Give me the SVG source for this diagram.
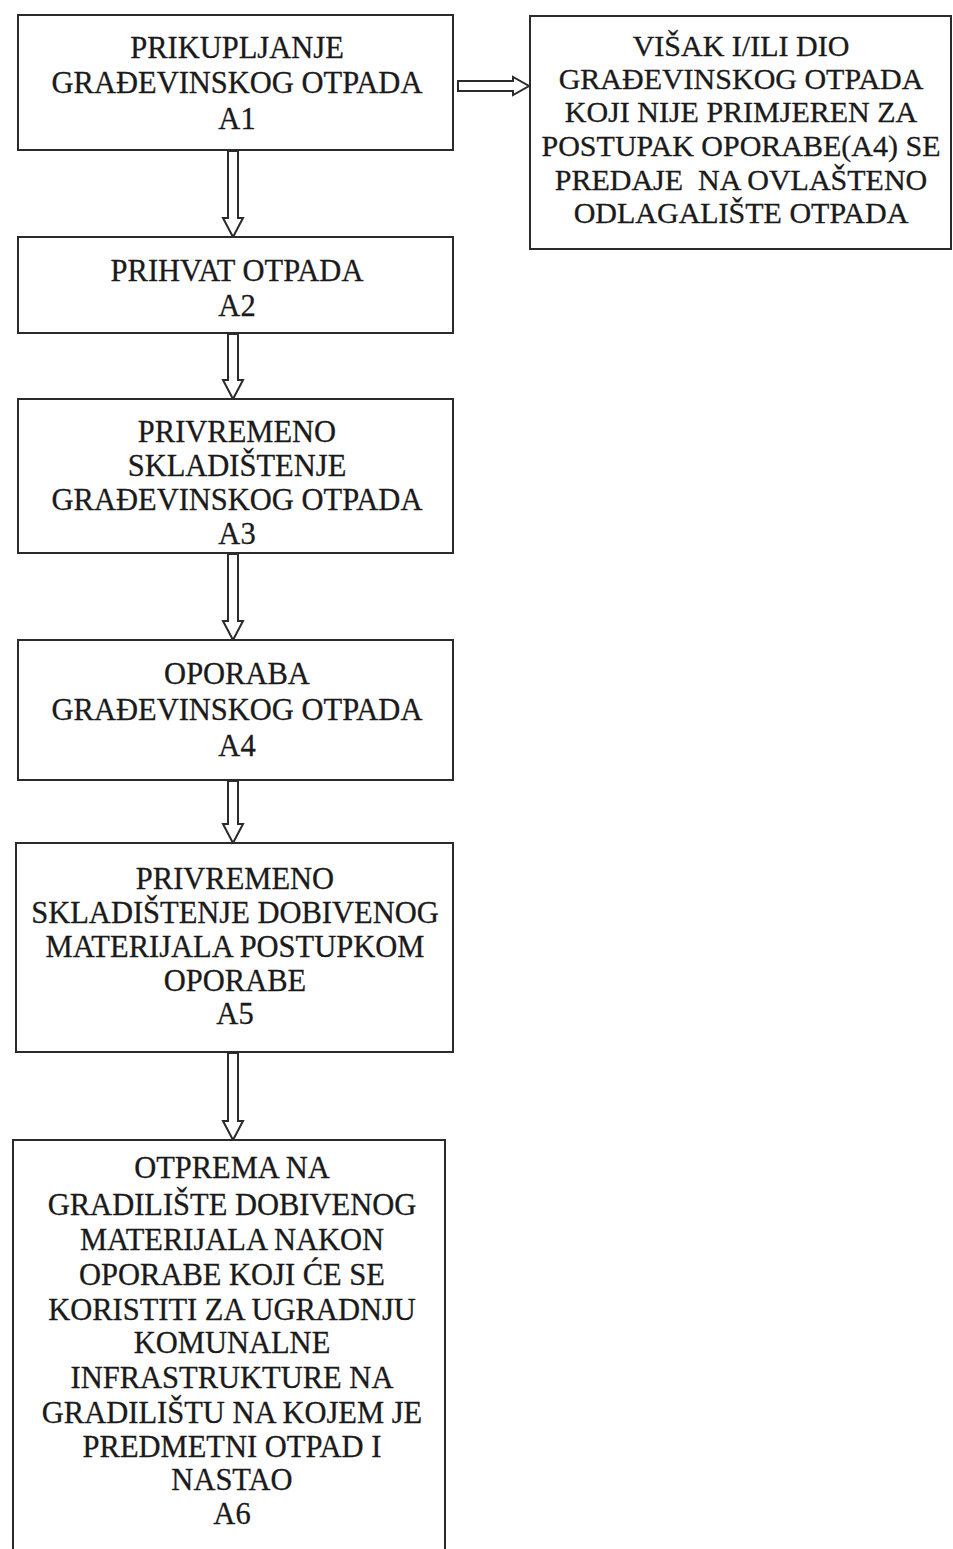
<svg xmlns="http://www.w3.org/2000/svg" width="953" height="1549" viewBox="0 0 953 1549">
<style>
.box{fill:#fff;stroke:#2b2b2b;stroke-width:2}
.arr{fill:#fff;stroke:#2b2b2b;stroke-width:2;stroke-linejoin:miter}
text{font-family:"Liberation Serif","Times New Roman",serif;font-size:30.5px;fill:#1a1a1a;stroke:#1a1a1a;stroke-width:0.3;text-anchor:middle}
.r text{font-size:30px}
</style>
<rect width="953" height="1549" fill="#fff"/>
<g id="connectors">
<polygon class="arr" points="458,81 513,81 513,77 529,86 513,95 513,91 458,91"/>
<polygon class="arr" points="228,151 238,151 238,218 243,218 233,237 223,218 228,218"/>
<polygon class="arr" points="228,334 238,334 238,380 243,380 233,399 223,380 228,380"/>
<polygon class="arr" points="228,554 238,554 238,621 243,621 233,640 223,621 228,621"/>
<polygon class="arr" points="228,781 238,781 238,824 243,824 233,843 223,824 228,824"/>
<polygon class="arr" points="228,1053 238,1053 238,1121 243,1121 233,1140 223,1121 228,1121"/>
</g>
<g id="A1">
<rect class="box" x="18" y="15" width="435" height="135"/>
<text x="237" y="58">PRIKUPLJANJE</text>
<text x="237" y="93">GRAĐEVINSKOG OTPADA</text>
<text x="237" y="129">A1</text>
</g>
<g id="R" class="r">
<rect class="box" x="530" y="16" width="421" height="233"/>
<text x="741" y="56">VIŠAK I/ILI DIO</text>
<text x="741" y="89">GRAĐEVINSKOG OTPADA</text>
<text x="741" y="122">KOJI NIJE PRIMJEREN ZA</text>
<text x="741" y="156">POSTUPAK OPORABE(A4) SE</text>
<text x="741" y="190">PREDAJE&#160; NA OVLAŠTENO</text>
<text x="741" y="223">ODLAGALIŠTE OTPADA</text>
</g>
<g id="A2">
<rect class="box" x="18" y="237" width="435" height="96"/>
<text x="237" y="281">PRIHVAT OTPADA</text>
<text x="237" y="316">A2</text>
</g>
<g id="A3">
<rect class="box" x="18" y="399" width="435" height="154"/>
<text x="237" y="442">PRIVREMENO</text>
<text x="237" y="476">SKLADIŠTENJE</text>
<text x="237" y="510">GRAĐEVINSKOG OTPADA</text>
<text x="237" y="544">A3</text>
</g>
<g id="A4">
<rect class="box" x="18" y="640" width="435" height="140"/>
<text x="237" y="684">OPORABA</text>
<text x="237" y="720">GRAĐEVINSKOG OTPADA</text>
<text x="237" y="756">A4</text>
</g>
<g id="A5">
<rect class="box" x="16" y="843" width="437" height="209"/>
<text x="235" y="889">PRIVREMENO</text>
<text x="235" y="923">SKLADIŠTENJE DOBIVENOG</text>
<text x="235" y="957">MATERIJALA POSTUPKOM</text>
<text x="235" y="991">OPORABE</text>
<text x="235" y="1024">A5</text>
</g>
<g id="A6">
<path class="box" d="M13,1560 V1140 H445 V1560"/>
<text x="232" y="1178">OTPREMA NA</text>
<text x="232" y="1215">GRADILIŠTE DOBIVENOG</text>
<text x="232" y="1250">MATERIJALA NAKON</text>
<text x="232" y="1285">OPORABE KOJI ĆE SE</text>
<text x="232" y="1320">KORISTITI ZA UGRADNJU</text>
<text x="232" y="1353">KOMUNALNE</text>
<text x="232" y="1388">INFRASTRUKTURE NA</text>
<text x="232" y="1423">GRADILIŠTU NA KOJEM JE</text>
<text x="232" y="1457">PREDMETNI OTPAD I</text>
<text x="232" y="1490">NASTAO</text>
<text x="232" y="1524">A6</text>
</g>
</svg>
